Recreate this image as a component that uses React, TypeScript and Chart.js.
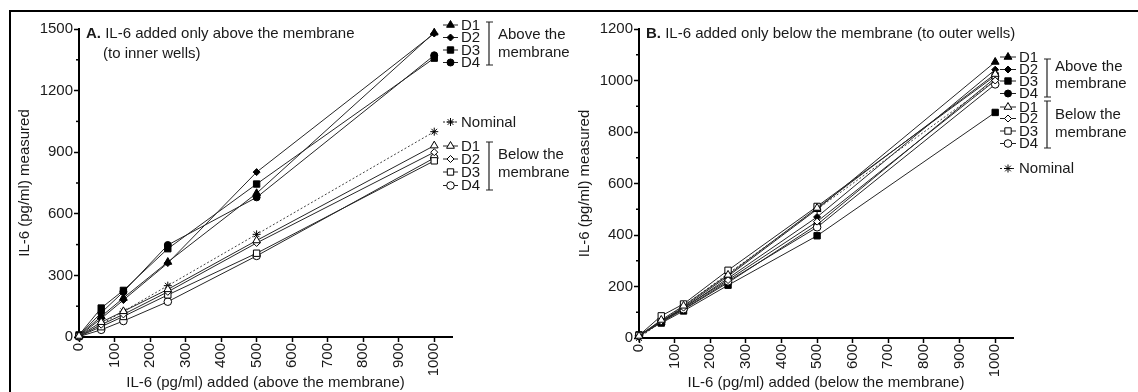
import React, { useEffect, useRef } from 'react';
import { Chart, registerables } from 'chart.js';
import { drawPoint } from 'chart.js/helpers';

Chart.register(...registerables);

// ---------- DATA ----------
const DOSES = [0, 62.5, 125, 250, 500, 1000];
const NOMINAL = [0, 62.5, 125, 250, 500, 1000];

// Panel A: IL-6 added only above the membrane
const A_ABOVE_D1 = [8, 100, 190, 365, 700, 1482];
const A_ABOVE_D2 = [5, 90, 180, 360, 803, 1478];
const A_ABOVE_D3 = [10, 141, 227, 430, 745, 1358];
const A_ABOVE_D4 = [8, 118, 220, 448, 680, 1372];
const A_BELOW_D1 = [5, 72, 125, 232, 470, 932];
const A_BELOW_D2 = [4, 60, 110, 220, 458, 900];
const A_BELOW_D3 = [3, 50, 100, 205, 408, 858];
const A_BELOW_D4 = [2, 35, 78, 172, 395, 872];

// Panel B: IL-6 added only below the membrane
const B_ABOVE_D1 = [10, 62, 120, 240, 500, 1072];
const B_ABOVE_D2 = [8, 60, 115, 232, 470, 1042];
const B_ABOVE_D3 = [12, 58, 105, 205, 397, 876];
const B_ABOVE_D4 = [10, 62, 110, 215, 440, 1010];
const B_BELOW_D1 = [8, 70, 125, 245, 505, 1025];
const B_BELOW_D2 = [6, 65, 118, 225, 452, 1000];
const B_BELOW_D3 = [10, 86, 132, 263, 511, 1018];
const B_BELOW_D4 = [8, 68, 112, 220, 430, 985];

const DONOR_LABELS = ['D1', 'D2', 'D3', 'D4'];
const NOMINAL_LABEL = 'Nominal';

const X_TICKS = [0, 100, 200, 300, 400, 500, 600, 700, 800, 900, 1000];
const A_Y_MAJOR = [0, 300, 600, 900, 1200, 1500];
const A_Y_MINOR = [150, 450, 750, 1050, 1350];
const B_Y_MAJOR = [0, 200, 400, 600, 800, 1000, 1200];
const B_Y_MINOR = [100, 300, 500, 700, 900, 1100];

const FONT = '"Liberation Sans", Arial, sans-serif';
const FS = 15;

// marker styles per donor
const ABOVE_STYLES = [
  { pointStyle: 'triangle', radius: 4.5 },
  { pointStyle: 'rectRot', radius: 3.5 },
  { pointStyle: 'rect', radius: 4.5 },
  { pointStyle: 'circle', radius: 3.5 },
];
const BELOW_STYLES = [
  { pointStyle: 'triangle', radius: 4.5 },
  { pointStyle: 'rectRot', radius: 3.5 },
  { pointStyle: 'rect', radius: 4.5 },
  { pointStyle: 'circle', radius: 3.8 },
];

function series(values: number[], label: string, style: any, filled: boolean, extra: any = {}) {
  return {
    label,
    data: DOSES.map((x, i) => ({ x, y: values[i] })),
    borderColor: '#262626',
    borderWidth: 1,
    pointStyle: style.pointStyle,
    pointRadius: style.radius,
    pointHoverRadius: style.radius,
    pointBackgroundColor: filled ? '#000' : '#fff',
    pointBorderColor: '#000',
    pointBorderWidth: 1,
    fill: false,
    tension: 0,
    clip: false,
    ...extra,
  };
}

function nominalSeries() {
  return series(NOMINAL, NOMINAL_LABEL, { pointStyle: 'star', radius: 4 }, false, {
    borderDash: [2, 2],
    borderColor: '#444',
  });
}

function makeDecor(cfg: any) {
  return {
    id: 'decor',
    afterDraw(chart: any) {
      const ctx = chart.ctx;
      ctx.save();
      // minor y ticks
      const ys = chart.scales.y;
      ctx.strokeStyle = '#000';
      ctx.lineWidth = 1.5;
      cfg.yMinor.forEach((v: number) => {
        const py = ys.getPixelForValue(v);
        ctx.beginPath();
        ctx.moveTo(ys.right - 3, py);
        ctx.lineTo(ys.right, py);
        ctx.stroke();
      });

      // annotations
      ctx.fillStyle = '#1a1a1a';
      ctx.textBaseline = 'middle';
      ctx.textAlign = 'left';
      cfg.notes.forEach((n: any) => {
        let x = n.x;
        n.parts.forEach((p: any) => {
          ctx.font = `${p.bold ? 'bold ' : ''}${FS}px ${FONT}`;
          ctx.fillText(p.text, x, n.y);
          x += ctx.measureText(p.text).width;
        });
      });

      // legend items
      const L = cfg.legend;
      cfg.legend.items.forEach((it: any) => {
        const ds = chart.data.datasets[it.ds];
        ctx.save();
        ctx.strokeStyle = '#222';
        ctx.lineWidth = 1;
        ctx.setLineDash(ds.borderDash || []);
        ctx.beginPath();
        ctx.moveTo(L.lineX, it.y);
        ctx.lineTo(L.lineX + L.lineW, it.y);
        ctx.stroke();
        ctx.setLineDash([]);
        ctx.fillStyle = ds.pointBackgroundColor;
        ctx.strokeStyle = '#000';
        ctx.lineWidth = 1;
        drawPoint(ctx, { pointStyle: ds.pointStyle, radius: ds.pointRadius, borderWidth: 1, rotation: 0 } as any, L.markerX, it.y);
        ctx.restore();
        ctx.fillStyle = '#1a1a1a';
        ctx.font = `${FS}px ${FONT}`;
        ctx.textBaseline = 'middle';
        ctx.fillText(ds.label, L.textX, it.y + 0.5);
      });

      // brackets
      ctx.strokeStyle = '#222';
      ctx.lineWidth = 1.2;
      cfg.legend.brackets.forEach((b: any) => {
        ctx.beginPath();
        ctx.moveTo(b.x, b.top);
        ctx.lineTo(b.x, b.bottom);
        ctx.moveTo(b.x - 3, b.top);
        ctx.lineTo(b.x + 4, b.top);
        ctx.moveTo(b.x - 3, b.bottom);
        ctx.lineTo(b.x + 4, b.bottom);
        ctx.stroke();
        ctx.fillStyle = '#1a1a1a';
        ctx.font = `${FS}px ${FONT}`;
        ctx.fillText(b.line1, b.textX, b.y1);
        ctx.fillText(b.line2, b.textX, b.y2);
      });
      ctx.restore();
    },
  };
}

function buildOptions(p: any) {
  return {
    responsive: false,
    animation: false,
    events: [],
    layout: { padding: { left: 9, top: 29, right: p.rightPad, bottom: 0 } },
    plugins: { legend: { display: false }, tooltip: { enabled: false } },
    scales: {
      x: {
        type: 'linear',
        min: 0,
        max: 1050,
        afterBuildTicks: (s: any) => {
          s.ticks = X_TICKS.map((v) => ({ value: v }));
        },
        afterFit: (s: any) => {
          s.height = p.xHeight;
        },
        border: { display: true, color: '#000', width: 2 },
        grid: { display: true, drawOnChartArea: false, drawTicks: true, tickLength: 5, tickWidth: 1.5, tickColor: '#000' },
        ticks: {
          autoSkip: false,
          minRotation: 90,
          maxRotation: 90,
          padding: 1,
          color: '#1a1a1a',
          font: { family: FONT, size: FS },
          callback: (v: any) => String(v),
        },
        title: {
          display: true,
          text: p.xTitle,
          color: '#1a1a1a',
          font: { family: FONT, size: FS },
          padding: { top: 0, bottom: 0 },
        },
      },
      y: {
        type: 'linear',
        min: 0,
        max: p.yMax,
        afterBuildTicks: (s: any) => {
          s.ticks = p.yMajor.map((v: number) => ({ value: v }));
        },
        afterFit: (s: any) => {
          s.width = 70;
        },
        border: { display: true, color: '#000', width: 2 },
        grid: { display: true, drawOnChartArea: false, drawTicks: true, tickLength: 5, tickWidth: 1.5, tickColor: '#000' },
        ticks: {
          autoSkip: false,
          padding: 1,
          color: '#1a1a1a',
          font: { family: FONT, size: FS },
          callback: (v: any) => String(v),
        },
        title: {
          display: true,
          text: 'IL-6 (pg/ml) measured',
          color: '#1a1a1a',
          font: { family: FONT, size: FS },
          padding: { top: 7, bottom: 0 },
        },
      },
    },
  };
}

function PanelA() {
  const ref = useRef<HTMLCanvasElement>(null);
  useEffect(() => {
    const above = [A_ABOVE_D1, A_ABOVE_D2, A_ABOVE_D3, A_ABOVE_D4];
    const below = [A_BELOW_D1, A_BELOW_D2, A_BELOW_D3, A_BELOW_D4];
    const datasets: any[] = [
      ...below.map((v, i) => series(v, DONOR_LABELS[i], BELOW_STYLES[i], false)),
      nominalSeries(),
      ...above.map((v, i) => series(v, DONOR_LABELS[i], ABOVE_STYLES[i], true)),
    ];
    const decor = makeDecor({
      yMinor: A_Y_MINOR,
      notes: [
        { x: 86, y: 34, parts: [{ text: 'A.', bold: true }, { text: ' IL-6 added only above the membrane' }] },
        { x: 103, y: 54, parts: [{ text: '(to inner wells)' }] },
      ],
      legend: {
        lineX: 443,
        lineW: 15,
        markerX: 450.5,
        textX: 461,
        items: [
          { y: 25, ds: 5 },
          { y: 37.5, ds: 6 },
          { y: 50, ds: 7 },
          { y: 62.5, ds: 8 },
          { y: 122, ds: 4 },
          { y: 146, ds: 0 },
          { y: 159, ds: 1 },
          { y: 172, ds: 2 },
          { y: 185.5, ds: 3 },
        ],
        brackets: [
          { x: 489, top: 22, bottom: 65, textX: 498, line1: 'Above the', y1: 34.5, line2: 'membrane', y2: 52.5 },
          { x: 489, top: 142, bottom: 190, textX: 498, line1: 'Below the', y1: 155, line2: 'membrane', y2: 172.5 },
        ],
      },
    });
    const chart = new Chart(ref.current as HTMLCanvasElement, {
      type: 'line',
      data: { datasets },
      options: buildOptions({
        rightPad: 158,
        xHeight: 55,
        yMax: 1500,
        yMajor: A_Y_MAJOR,
        xTitle: 'IL-6 (pg/ml) added (above the membrane)',
      }) as any,
      plugins: [decor],
    });
    return () => chart.destroy();
  }, []);
  return <canvas ref={ref} width={610} height={392} style={{ position: 'absolute', left: 0, top: 0 }} />;
}

function PanelB() {
  const ref = useRef<HTMLCanvasElement>(null);
  useEffect(() => {
    const above = [B_ABOVE_D1, B_ABOVE_D2, B_ABOVE_D3, B_ABOVE_D4];
    const below = [B_BELOW_D1, B_BELOW_D2, B_BELOW_D3, B_BELOW_D4];
    const datasets: any[] = [
      ...below.map((v, i) => series(v, DONOR_LABELS[i], BELOW_STYLES[i], false)),
      nominalSeries(),
      ...above.map((v, i) => series(v, DONOR_LABELS[i], ABOVE_STYLES[i], true)),
    ];
    const decor = makeDecor({
      yMinor: B_Y_MINOR,
      notes: [
        { x: 86, y: 34, parts: [{ text: 'B.', bold: true }, { text: ' IL-6 added only below the membrane (to outer wells)' }] },
      ],
      legend: {
        lineX: 440,
        lineW: 16,
        markerX: 448,
        textX: 459,
        items: [
          { y: 57, ds: 5 },
          { y: 69.5, ds: 6 },
          { y: 81, ds: 7 },
          { y: 93.5, ds: 8 },
          { y: 107, ds: 0 },
          { y: 118.5, ds: 1 },
          { y: 131, ds: 2 },
          { y: 143.5, ds: 3 },
          { y: 168.5, ds: 4 },
        ],
        brackets: [
          { x: 487, top: 59, bottom: 97, textX: 495, line1: 'Above the', y1: 66.5, line2: 'membrane', y2: 83.5 },
          { x: 487, top: 101, bottom: 148, textX: 495, line1: 'Below the', y1: 115, line2: 'membrane', y2: 132.5 },
        ],
      },
    });
    const chart = new Chart(ref.current as HTMLCanvasElement, {
      type: 'line',
      data: { datasets },
      options: buildOptions({
        rightPad: 125,
        xHeight: 54,
        yMax: 1200,
        yMajor: B_Y_MAJOR,
        xTitle: 'IL-6 (pg/ml) added (below the membrane)',
      }) as any,
      plugins: [decor],
    });
    return () => chart.destroy();
  }, []);
  return <canvas ref={ref} width={578} height={392} style={{ position: 'absolute', left: 560, top: 0 }} />;
}

export default function App() {
  useEffect(() => {
    document.body.style.margin = '0';
    document.body.style.background = '#fff';
  }, []);
  return (
    <div style={{ position: 'relative', width: 1138, height: 392, overflow: 'hidden', background: '#fff' }}>
      <div
        style={{
          position: 'absolute',
          left: 9,
          top: 10,
          width: 1129,
          height: 382,
          borderLeft: '2px solid #000',
          borderTop: '2px solid #000',
          boxSizing: 'border-box',
        }}
      />
      <PanelA />
      <PanelB />
    </div>
  );
}
